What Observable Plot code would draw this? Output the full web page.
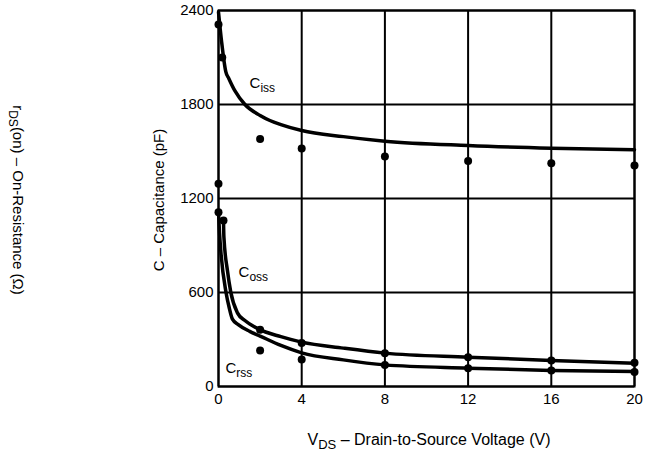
<!DOCTYPE html>
<html><head><meta charset="utf-8">
<script src="https://cdn.jsdelivr.net/npm/d3@7"></script>
<script src="https://cdn.jsdelivr.net/npm/@observablehq/plot@0.6"></script>
<style>body{margin:0;background:#fff;} svg{display:block}</style>
</head><body><div id="chart"></div>
<script>
const xTicks = [0, 4, 8, 12, 16, 20];
const yTicks = [0, 600, 1200, 1800, 2400];

// fitted curves (V, pF)
const cissCurveV = [0, 0.15, 0.35, 0.5, 0.8, 1.27, 2, 2.47, 3, 4, 6, 8, 12, 16, 20];
const cissCurveC = [2390, 2200, 2010, 1965, 1885, 1800, 1730, 1698, 1672, 1634, 1595, 1566, 1538, 1521, 1511];
const cossCurveV = [0.24, 0.26, 0.43, 0.59, 0.91, 1.27, 1.91, 3, 4, 6, 8, 12, 16, 20];
const cossCurveC = [1060, 953, 740, 602, 470, 421, 368, 318, 283, 245, 213, 187, 166, 149];
const crssCurveV = [0, 0.05, 0.12, 0.36, 0.51, 0.67, 0.95, 1.5, 2, 3, 4, 6, 8, 12, 16, 20];
const crssCurveC = [1113, 980, 850, 602, 506, 430, 395, 352, 322, 262, 215, 170, 138, 117, 102, 95];

// measured points
const cissPtV = [0, 0.18, 2, 4, 8, 12, 16, 20, 0];
const cissPtC = [2310, 2100, 1580, 1519, 1468, 1440, 1425, 1411, 1294];
const cossPtV = [0.24, 2, 4, 8, 12, 16, 20];
const cossPtC = [1060, 362, 277, 213, 187, 166, 151];
const crssPtV = [0, 2, 4, 8, 12, 16, 20];
const crssPtC = [1113, 230, 172, 138, 117, 102, 92];

// curve labels
const labelSub = ["iss", "oss", "rss"];
const labelV = [1.52, 0.99, 0.36];
const labelC = [1905, 696, 83];

const curves = [];
[[cissCurveV, cissCurveC, "Ciss"], [cossCurveV, cossCurveC, "Coss"], [crssCurveV, crssCurveC, "Crss"]]
  .forEach(([vs, cs, s]) => vs.forEach((v, i) => curves.push({v, c: cs[i], s})));
const pts = [];
[[cissPtV, cissPtC], [cossPtV, cossPtC], [crssPtV, crssPtC]]
  .forEach(([vs, cs]) => vs.forEach((v, i) => pts.push({v, c: cs[i]})));

const font = "'Liberation Sans', Arial, Helvetica, sans-serif";
const plot = Plot.plot({
  width: 648, height: 458,
  marginLeft: 218, marginRight: 14, marginTop: 10, marginBottom: 72,
  style: {fontFamily: font, fontSize: "15px", background: "white", color: "black"},
  x: {domain: [0, 20], label: null},
  y: {domain: [0, 2400], label: null},
  marks: [
    Plot.gridX(xTicks, {stroke: "black", strokeOpacity: 1, strokeWidth: 2}),
    Plot.gridY(yTicks, {stroke: "black", strokeOpacity: 1, strokeWidth: 2}),
    Plot.frame({stroke: "black", strokeWidth: 2}),
    Plot.axisX(xTicks, {tickSize: 0, tickPadding: 7, fontSize: 15, label: null, tickFormat: d => String(d)}),
    Plot.axisY(yTicks, {tickSize: 0, tickPadding: 5, fontSize: 15, label: null, tickFormat: d => String(d)}),
    Plot.line(curves, {x: "v", y: "c", z: "s", stroke: "black", strokeWidth: 3.5, curve: "monotone-x"}),
    Plot.dot(pts, {x: "v", y: "c", r: 4, fill: "black", stroke: "none"})
  ]
});
document.getElementById("chart").appendChild(plot);

const svg = d3.select(plot);
const xs = plot.scale("x"), ys = plot.scale("y");
const g = svg.append("g").attr("font-family", font).attr("fill", "black");

labelSub.forEach((sub, i) => {
  const t = g.append("text")
    .attr("x", xs.apply(labelV[i])).attr("y", ys.apply(labelC[i]))
    .attr("text-anchor", "start")
    .attr("font-size", 15);
  t.append("tspan").text("C");
  t.append("tspan").attr("font-size", 12).attr("dy", 4).text(sub);
});

// x axis title
const xMid = (xs.apply(0) + xs.apply(20)) / 2 + 3;
const xt = g.append("text").attr("x", xMid).attr("y", 445)
  .attr("text-anchor", "middle").attr("font-size", 16);
xt.append("tspan").text("V");
xt.append("tspan").attr("font-size", 13).attr("dy", 4).text("DS");
xt.append("tspan").attr("dy", -4).text(" \u2013 Drain-to-Source Voltage (V)");

// y axis title (capacitance)
const yMid = (ys.apply(0) + ys.apply(2400)) / 2 + 2;
g.append("text").attr("transform", `translate(164,${yMid}) rotate(-90)`)
  .attr("text-anchor", "middle").attr("font-size", 15)
  .text("C \u2013 Capacitance (pF)");

// secondary title (on-resistance)
const rt = g.append("text").attr("transform", `translate(13,${yMid}) rotate(90)`)
  .attr("text-anchor", "middle").attr("font-size", 15);
rt.append("tspan").text("r");
rt.append("tspan").attr("font-size", 12).attr("dy", 4).text("DS");
rt.append("tspan").attr("dy", -4).text("(on) \u2013 On-Resistance (\u03A9)");
</script></body></html>
